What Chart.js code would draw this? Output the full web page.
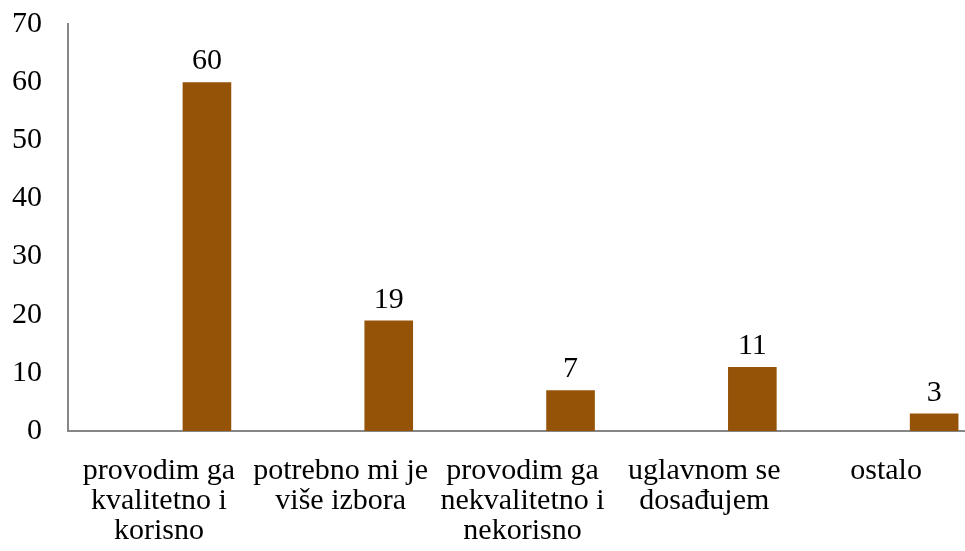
<!DOCTYPE html>
<html>
<head>
<meta charset="utf-8">
<script src="https://cdn.jsdelivr.net/npm/chart.js@4.4.0/dist/chart.umd.min.js"></script>
<style>
  html, body { margin: 0; padding: 0; background: #fff; }
  #wrap { width: 965px; height: 551px; overflow: hidden; }
  #wrap div { width: 980px; height: 571px; margin-top: -20px; }
</style>
</head>
<body>
<div id="wrap"><div><canvas id="odgovori"></canvas></div></div>
<script>
// categories (multi-line labels) and counts
var kategorije = [
    ["provodim ga", "kvalitetno i", "korisno"],
    ["potrebno mi je", "više izbora"],
    ["provodim ga", "nekvalitetno i", "nekorisno"],
    ["uglavnom se", "dosađujem"],
    ["ostalo"]
];
var prazno = [null, null, null, null, null];
var vrijednosti = [60, 19, 7, 11, 3];
var yTicks = [0, 10, 20, 30, 40, 50, 60, 70];

var serif = "'Liberation Serif', 'DejaVu Serif', serif";

// draw value above each bar
var oznake = {
    id: 'oznake',
    afterDatasetsDraw: function (chart) {
        var ctx = chart.ctx;
        var meta = chart.getDatasetMeta(1);
        ctx.save();
        ctx.fillStyle = '#000';
        ctx.font = '30px ' + serif;
        ctx.textAlign = 'center';
        ctx.textBaseline = 'alphabetic';
        meta.data.forEach(function (bar, i) {
            ctx.fillText(vrijednosti[i], bar.x, bar.y - 13);
        });
        ctx.restore();
    }
};

var ctx = document.getElementById("odgovori").getContext('2d');
var chart = new Chart(ctx, {
    type: 'bar',
    data: {
        labels: kategorije,
        datasets: [{
            data: prazno,
            backgroundColor: '#945306'
        }, {
            data: vrijednosti,
            backgroundColor: '#945306'
        }]
    },
    options: {
        responsive: true,
        maintainAspectRatio: false,
        animation: false,
        datasets: { bar: { categoryPercentage: 1.057, barPercentage: 0.506 } },
        layout: { padding: { top: 0, right: 3, left: 0, bottom: 0 } },
        plugins: {
            legend: { display: false },
            tooltip: { enabled: false }
        },
        scales: {
            x: {
                grid: { display: false, drawTicks: false },
                border: { display: true, color: '#868686', width: 2 },
                ticks: {
                    color: '#000',
                    font: { family: serif, size: 30, lineHeight: 1.0 },
                    padding: 25,
                    maxRotation: 0,
                    autoSkip: false
                },
                afterFit: function (s) { s.height = 120; }
            },
            y: {
                min: 0,
                max: 70,
                grid: { display: false, drawTicks: false },
                border: { display: true, color: '#868686', width: 2 },
                afterBuildTicks: function (s) {
                    s.ticks = yTicks.map(function (v) { return { value: v }; });
                },
                ticks: {
                    color: '#000',
                    font: { family: serif, size: 30 },
                    padding: 26
                },
                afterFit: function (s) { s.width = 68; }
            }
        }
    },
    plugins: [oznake]
});
</script>
</body>
</html>
